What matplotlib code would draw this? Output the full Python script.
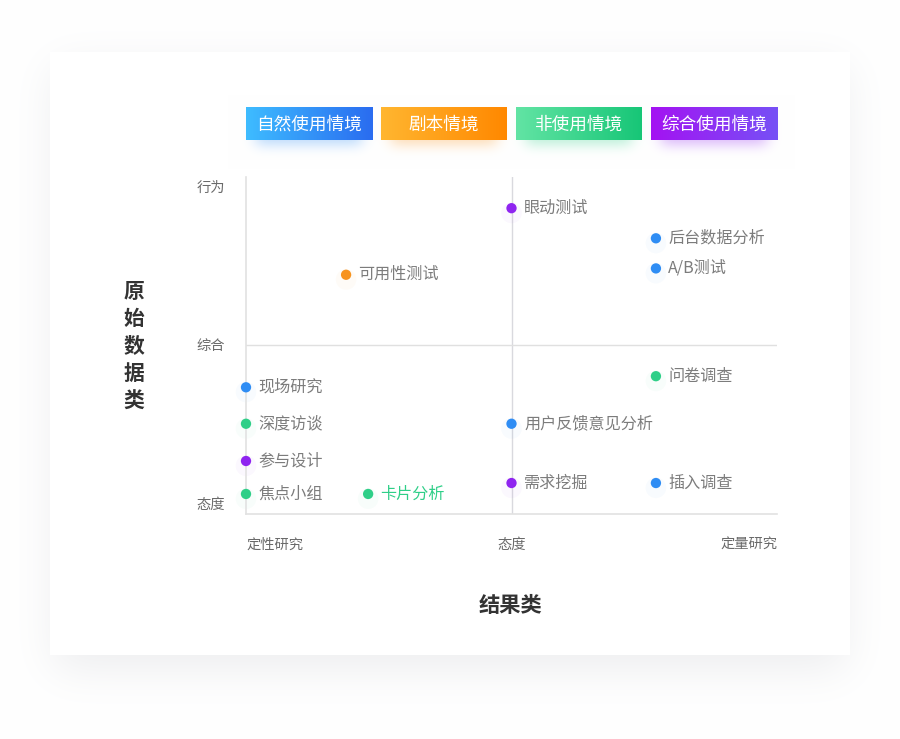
import matplotlib
matplotlib.use("Agg")
import matplotlib.pyplot as plt
import numpy as np
from matplotlib.colors import LinearSegmentedColormap, to_rgb

plt.rcParams['font.family'] = ['Noto Sans CJK SC', 'DejaVu Sans']

# ---------------- data ----------------
categories = ['自然使用情境', '剧本情境', '非使用情境', '综合使用情境']
cat_colors = ['#2f8df4', '#f7931e', '#2fcf88', '#8f24f0']
cat_grad = [('#3ebcff', '#2a6cf0'), ('#ffb630', '#ff8800'),
            ('#62e4a4', '#17c677'), ('#a412f2', '#7651f6')]

x_ticks = [0, 1, 2]
x_tick_labels = ['定性研究', '态度', '定量研究']
y_ticks = [0, 1, 2]
y_tick_labels = ['态度', '综合', '行为']

methods = ['可用性测试', '眼动测试', '后台数据分析', 'A/B测试', '现场研究', '深度访谈',
           '参与设计', '焦点小组', '卡片分析', '问卷调查', '用户反馈意见分析', '需求挖掘', '插入调查']
x_vals = [0.377, 1.0, 1.544, 1.544, 0.0, 0.0, 0.0, 0.0, 0.46, 1.544, 1.0, 1.0, 1.544]
y_vals = [1.44, 1.86, 1.67, 1.48, 0.73, 0.50, 0.265, 0.057, 0.057, 0.80, 0.50, 0.126, 0.126]
groups = [1, 3, 0, 0, 0, 2, 3, 2, 2, 2, 0, 3, 0]
highlight = ['卡片分析']

# ---------------- figure ----------------
W, H = 900, 739
fig = plt.figure(figsize=(W / 100, H / 100), dpi=100)
fig.patch.set_facecolor('#ffffff')

def fx(px):
    return px / W

def fy(py):
    return 1 - py / H

def blur1d(n, a, b, sigma):
    idx = np.arange(n)
    ind = ((idx >= a) & (idx < b)).astype(float)
    r = int(4 * sigma)
    k = np.exp(-0.5 * (np.arange(-r, r + 1) / sigma) ** 2)
    k /= k.sum()
    return np.convolve(ind, k, mode='same')

# background image: soft card shadow + card + legend glows
cx0, cy0, cx1, cy1 = 50, 52, 850, 655
img = np.ones((H, W, 3))
sh = np.outer(blur1d(H, cy0 + 14, cy1 + 14, 22), blur1d(W, cx0 + 4, cx1 - 4, 22))
img -= (sh * 0.10)[:, :, None] * (1 - np.array(to_rgb('#4a4f60')))[None, None, :]
img[cy0:cy1, cx0:cx1, :] = 1.0

box_x = [246, 381, 516, 651]
box_w, box_top, box_h = 126, 107, 33
for i in range(len(categories)):
    gl = np.outer(blur1d(H, box_top + 12, box_top + box_h + 5, 6),
                  blur1d(W, box_x[i] + 10, box_x[i] + box_w - 10, 7)) * 0.32
    c = np.array(to_rgb(cat_colors[i]))
    img = img * (1 - gl[:, :, None]) + c[None, None, :] * gl[:, :, None]

bg = fig.add_axes([0, 0, 1, 1], zorder=-10)
bg.imshow(img, extent=[0, W, H, 0], aspect='auto', interpolation='nearest')
bg.set_xlim(0, W)
bg.set_ylim(H, 0)
bg.axis('off')

# ---------------- legend boxes ----------------
for i, cat in enumerate(categories):
    bax = fig.add_axes([fx(box_x[i]), fy(box_top + box_h), fx(box_w), box_h / H])
    cmap = LinearSegmentedColormap.from_list('g%d' % i, cat_grad[i])
    grad = np.linspace(0, 1, 256).reshape(1, -1)
    bax.imshow(grad, aspect='auto', cmap=cmap, extent=[0, 1, 0, 1])
    bax.set_xlim(0, 1)
    bax.set_ylim(0, 1)
    bax.axis('off')
    bax.text(0.5, 0.47, cat, color='white', fontsize=12.7, ha='center', va='center')

# ---------------- main axes ----------------
ax_l, ax_r, ax_t, ax_b = 246, 777, 177, 514
ax = fig.add_axes([fx(ax_l), fy(ax_b), fx(ax_r - ax_l), (ax_b - ax_t) / H])
ax.set_facecolor('none')
ax.set_xlim(0, 2)
yunit = (503 - 186) / 2.0
ax.set_ylim(-(ax_b - 503) / yunit, 2 + (186 - ax_t) / yunit)

for s in ['top', 'right']:
    ax.spines[s].set_visible(False)
for s in ['left', 'bottom']:
    ax.spines[s].set_color('#e2e2e2')
    ax.spines[s].set_linewidth(1.2)
ax.axvline(1, color='#d9d9de', lw=1.0, zorder=1)
ax.axhline(1, color='#e0e0e0', lw=1.0, zorder=1)

ax.set_xticks(x_ticks)
ax.set_xticklabels(x_tick_labels, color='#6a6a6a', fontsize=10.3)
ax.set_yticks(y_ticks)
ax.set_yticklabels(y_tick_labels, color='#6a6a6a', fontsize=10.3)
ax.tick_params(axis='both', length=0)
ax.tick_params(axis='x', pad=17)
ax.tick_params(axis='y', pad=15)
xl = ax.get_xticklabels()
xl[0].set_horizontalalignment('left')
xl[2].set_horizontalalignment('right')

# points
for m, xv, yv, g in zip(methods, x_vals, y_vals, groups):
    c = cat_colors[g]
    ax.scatter([xv], [yv - 0.03], s=220, color=c, alpha=0.03, edgecolors='none', zorder=2, clip_on=False)
    ax.scatter([xv], [yv], s=55, color=c, edgecolors='none', zorder=3, clip_on=False)
    tc = c if m in highlight else '#7c7c7c'
    ax.annotate(m, (xv, yv), xytext=(9.0, 0), textcoords='offset points',
                ha='left', va='center', fontsize=11.6, color=tc, zorder=4)

# axis titles
fig.text(fx(511), fy(606), '结果类', fontsize=15.3, color='#333333',
         ha='center', va='center', fontweight='bold')
fig.text(fx(134), fy(346), '\n'.join('原始数据类'), fontsize=15.0, color='#333333',
         ha='center', va='center', fontweight='bold', linespacing=1.38)

fig.savefig('out.png', dpi=100, facecolor=fig.get_facecolor())
